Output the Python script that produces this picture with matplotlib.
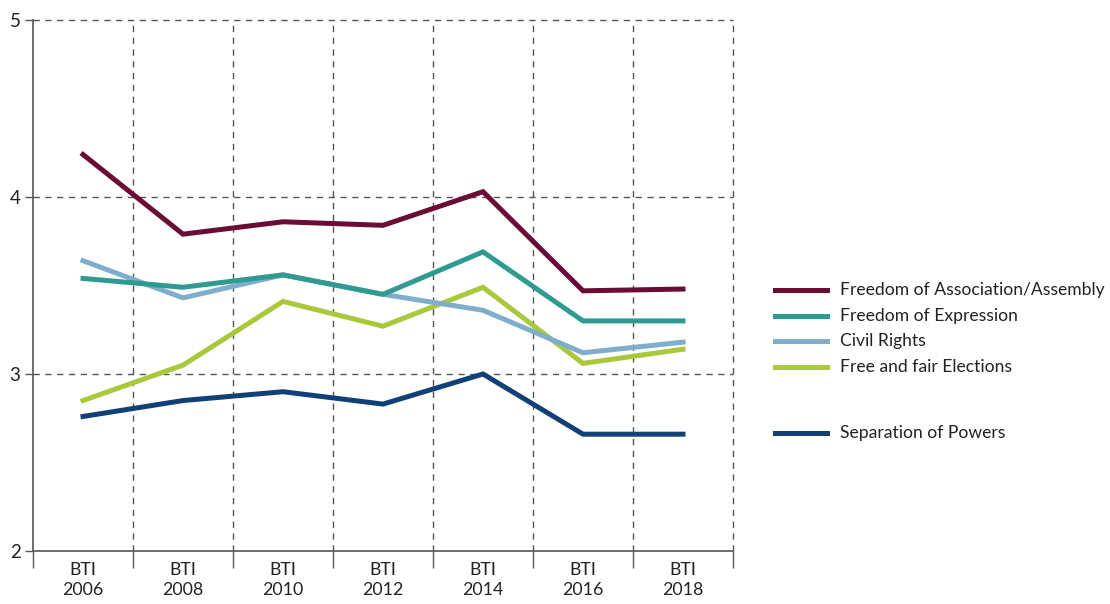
import numpy as np
import matplotlib
matplotlib.use('Agg')
import matplotlib.pyplot as plt

plt.rcParams['font.family'] = ['Lato', 'DejaVu Sans']

years = ['2006', '2008', '2010', '2012', '2014', '2016', '2018']
labels = [f"BTI\n{y}" for y in years]

association = [4.24, 3.79, 3.86, 3.84, 4.03, 3.47, 3.48]
expression = [3.54, 3.49, 3.56, 3.45, 3.69, 3.30, 3.30]
civil_rights = [3.64, 3.43, 3.56, 3.45, 3.36, 3.12, 3.18]
elections = [2.85, 3.05, 3.41, 3.27, 3.49, 3.06, 3.14]
separation = [2.76, 2.85, 2.90, 2.83, 3.00, 2.66, 2.66]

series = [
    ("Freedom of Association/Assembly", association, "#6b0c35"),
    ("Freedom of Expression", expression, "#2f9a90"),
    ("Civil Rights", civil_rights, "#7eaecb"),
    ("Free and fair Elections", elections, "#a9c83c"),
    ("Separation of Powers", separation, "#113f78"),
]

fig = plt.figure(figsize=(11.1, 6.04), dpi=100)
ax = fig.add_axes([33 / 1110, 1 - 551 / 604, 700 / 1110, 531 / 604])

x = np.arange(len(years))
# draw order: lower lines first so the top ones sit above
for name, vals, col in series[::-1]:
    ax.plot(x, vals, color=col, lw=3.6, solid_joinstyle='miter', zorder=3)

ax.set_xlim(-0.5, len(years) - 0.5)
ax.set_ylim(2, 5)
ax.set_yticks([2, 3, 4, 5])
ax.set_xticks(x)
ax.set_xticklabels(labels, fontsize=12.8, color='#222222', linespacing=1.3)
ax.set_xticks(np.arange(-0.5, len(years)), minor=True)
ax.tick_params(axis='x', which='major', length=0, pad=8)
ax.tick_params(axis='x', which='minor', length=12, width=1, color='#555555')
ax.tick_params(axis='y', length=6, width=1, color='#555555', labelsize=13.5,
               labelcolor='#222222', pad=3)

grid_kw = dict(color='#555555', lw=1, ls=(0, (4.5, 4)), zorder=1, clip_on=False)
for yv in [3, 4, 5]:
    ax.axhline(yv, **grid_kw)
for xv in np.arange(0.5, len(years) + 0.5):
    ax.axvline(xv, **grid_kw)

for s in ['top', 'right']:
    ax.spines[s].set_visible(False)
for s in ['left', 'bottom']:
    ax.spines[s].set_color('#555555')
    ax.spines[s].set_linewidth(1.2)

# legend drawn by hand, with a gap before the last entry
leg_y = [290, 316, 341, 367, 433]
for (name, vals, col), py in zip(series, leg_y):
    fy = 1 - py / 604
    fig.add_artist(plt.Line2D([775 / 1110, 827 / 1110], [fy, fy], color=col, lw=3.6))
    fig.text(840 / 1110, fy, name, fontsize=12.6, color='#222222', va='center')

fig.savefig('out.png', dpi=100)
